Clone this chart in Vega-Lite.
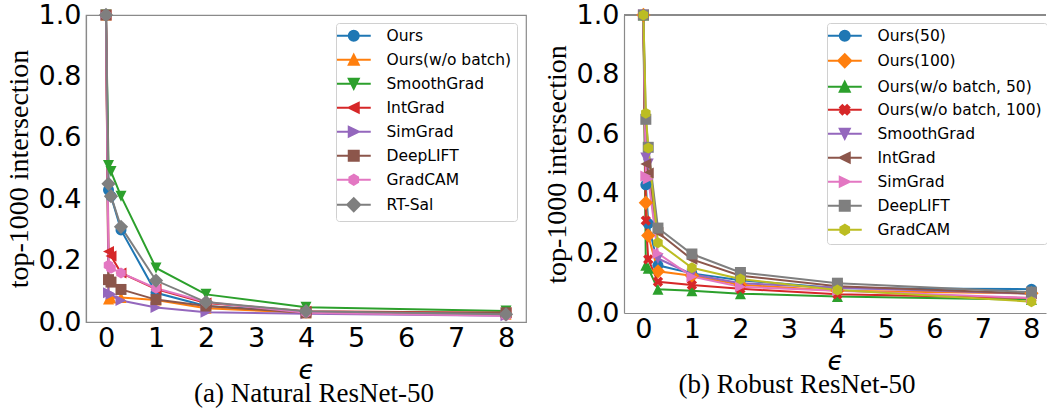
{
  "$schema": "https://vega.github.io/schema/vega-lite/v6.json",
  "background": "white",
  "padding": {"left": 4, "top": 0, "right": 0, "bottom": 0},
  "spacing": 16,
  "config": {
    "view": {"stroke": "#8a8a8a", "strokeWidth": 1.2},
    "axis": {
      "grid": false,
      "ticks": false,
      "tickSize": 0,
      "domainColor": "#8a8a8a",
      "domainWidth": 1.2,
      "labelFont": "DejaVu Sans",
      "labelFontSize": 27,
      "labelColor": "#000000",
      "labelPadding": 5
    },
    "axisX": {
      "labelPadding": 3,
      "titleFont": "DejaVu Sans",
      "titleFontStyle": "italic",
      "titleFontSize": 26,
      "titleFontWeight": "normal",
      "titleColor": "#000000",
      "titlePadding": 6
    },
    "axisY": {
      "titleFont": "Liberation Serif",
      "titleFontSize": 28,
      "titleFontWeight": "normal",
      "titleColor": "#000000",
      "titlePadding": 5
    },
    "legend": {
      "labelFont": "DejaVu Sans",
      "labelFontSize": 15.5,
      "labelColor": "#000000",
      "labelLimit": 400,
      "padding": 5,
      "rowPadding": 5,
      "symbolSize": 100,
      "symbolStrokeWidth": 2,
      "symbolOpacity": 1,
      "symbolOffset": 5,
      "labelOffset": 25,
      "strokeColor": "#d0d0d0",
      "fillColor": "transparent",
      "cornerRadius": 3
    }
  },
  "resolve": {"scale": {"color": "independent", "shape": "independent", "x": "independent", "y": "independent"}},
  "hconcat": [
    {
      "width": 440,
      "height": 307,
      "title": {"text": "(a) Natural ResNet-50", "orient": "bottom", "anchor": "middle", "frame": "group", "font": "Liberation Serif", "fontSize": 27, "fontWeight": "normal", "color": "#000000", "offset": -2, "dx": 8},
      "data": {"values": [
        {"m": "Ours", "e": 0, "v": 1.0}, {"m": "Ours", "e": 0.05, "v": 0.43}, {"m": "Ours", "e": 0.1, "v": 0.41}, {"m": "Ours", "e": 0.3, "v": 0.30}, {"m": "Ours", "e": 1, "v": 0.095}, {"m": "Ours", "e": 2, "v": 0.052}, {"m": "Ours", "e": 4, "v": 0.032}, {"m": "Ours", "e": 8, "v": 0.025},
        {"m": "Ours(w/o batch)", "e": 0, "v": 1.0}, {"m": "Ours(w/o batch)", "e": 0.05, "v": 0.075}, {"m": "Ours(w/o batch)", "e": 0.1, "v": 0.078}, {"m": "Ours(w/o batch)", "e": 0.3, "v": 0.08}, {"m": "Ours(w/o batch)", "e": 1, "v": 0.072}, {"m": "Ours(w/o batch)", "e": 2, "v": 0.045}, {"m": "Ours(w/o batch)", "e": 4, "v": 0.03}, {"m": "Ours(w/o batch)", "e": 8, "v": 0.025},
        {"m": "SmoothGrad", "e": 0, "v": 1.0}, {"m": "SmoothGrad", "e": 0.05, "v": 0.51}, {"m": "SmoothGrad", "e": 0.1, "v": 0.49}, {"m": "SmoothGrad", "e": 0.3, "v": 0.41}, {"m": "SmoothGrad", "e": 1, "v": 0.176}, {"m": "SmoothGrad", "e": 2, "v": 0.09}, {"m": "SmoothGrad", "e": 4, "v": 0.048}, {"m": "SmoothGrad", "e": 8, "v": 0.036},
        {"m": "IntGrad", "e": 0, "v": 1.0}, {"m": "IntGrad", "e": 0.05, "v": 0.23}, {"m": "IntGrad", "e": 0.1, "v": 0.215}, {"m": "IntGrad", "e": 0.3, "v": 0.16}, {"m": "IntGrad", "e": 1, "v": 0.107}, {"m": "IntGrad", "e": 2, "v": 0.062}, {"m": "IntGrad", "e": 4, "v": 0.035}, {"m": "IntGrad", "e": 8, "v": 0.03},
        {"m": "SimGrad", "e": 0, "v": 1.0}, {"m": "SimGrad", "e": 0.05, "v": 0.095}, {"m": "SimGrad", "e": 0.1, "v": 0.09}, {"m": "SimGrad", "e": 0.3, "v": 0.07}, {"m": "SimGrad", "e": 1, "v": 0.047}, {"m": "SimGrad", "e": 2, "v": 0.032}, {"m": "SimGrad", "e": 4, "v": 0.027}, {"m": "SimGrad", "e": 8, "v": 0.02},
        {"m": "DeepLIFT", "e": 0, "v": 1.0}, {"m": "DeepLIFT", "e": 0.05, "v": 0.138}, {"m": "DeepLIFT", "e": 0.1, "v": 0.13}, {"m": "DeepLIFT", "e": 0.3, "v": 0.106}, {"m": "DeepLIFT", "e": 1, "v": 0.073}, {"m": "DeepLIFT", "e": 2, "v": 0.052}, {"m": "DeepLIFT", "e": 4, "v": 0.03}, {"m": "DeepLIFT", "e": 8, "v": 0.03},
        {"m": "GradCAM", "e": 0, "v": 1.0}, {"m": "GradCAM", "e": 0.05, "v": 0.185}, {"m": "GradCAM", "e": 0.1, "v": 0.175}, {"m": "GradCAM", "e": 0.3, "v": 0.16}, {"m": "GradCAM", "e": 1, "v": 0.11}, {"m": "GradCAM", "e": 2, "v": 0.065}, {"m": "GradCAM", "e": 4, "v": 0.03}, {"m": "GradCAM", "e": 8, "v": 0.02},
        {"m": "RT-Sal", "e": 0, "v": 1.0}, {"m": "RT-Sal", "e": 0.05, "v": 0.45}, {"m": "RT-Sal", "e": 0.1, "v": 0.41}, {"m": "RT-Sal", "e": 0.3, "v": 0.31}, {"m": "RT-Sal", "e": 1, "v": 0.135}, {"m": "RT-Sal", "e": 2, "v": 0.065}, {"m": "RT-Sal", "e": 4, "v": 0.035}, {"m": "RT-Sal", "e": 8, "v": 0.025}
      ]},
      "resolve": {"scale": {"color": "independent", "shape": "independent"}},
      "layer": [
        {
          "mark": {"type": "line", "strokeWidth": 2},
          "encoding": {
            "x": {"field": "e", "type": "quantitative", "scale": {"domain": [-0.4, 8.4], "nice": false, "zero": false}, "axis": {"values": [0, 1, 2, 3, 4, 5, 6, 7, 8], "format": "d", "title": "ϵ"}},
            "y": {"field": "v", "type": "quantitative", "scale": {"domain": [0, 1], "nice": false}, "axis": {"values": [0, 0.2, 0.4, 0.6, 0.8, 1], "format": ".1f", "title": "top-1000 intersection"}},
            "color": {"field": "m", "type": "nominal", "legend": null,
              "scale": {"domain": ["Ours", "Ours(w/o batch)", "SmoothGrad", "IntGrad", "SimGrad", "DeepLIFT", "GradCAM", "RT-Sal"], "range": ["#1f77b4", "#ff7f0e", "#2ca02c", "#d62728", "#9467bd", "#8c564b", "#e377c2", "#7f7f7f"]}}
          }
        },
        {
          "transform": [{"filter": "false"}],
          "mark": {"type": "point", "filled": false, "opacity": 1, "strokeWidth": 2},
          "encoding": {
            "color": {"field": "m", "type": "nominal",
              "scale": {"domain": ["Ours", "Ours(w/o batch)", "SmoothGrad", "IntGrad", "SimGrad", "DeepLIFT", "GradCAM", "RT-Sal"], "range": ["#1f77b4", "#ff7f0e", "#2ca02c", "#d62728", "#9467bd", "#8c564b", "#e377c2", "#7f7f7f"]},
              "legend": {"title": null, "orient": "none", "legendX": 250, "legendY": 8, "direction": "vertical", "strokeColor": "transparent", "labelExpr": "' '"}},
            "shape": {"field": "m", "type": "nominal",
              "scale": {"domain": ["Ours", "Ours(w/o batch)", "SmoothGrad", "IntGrad", "SimGrad", "DeepLIFT", "GradCAM", "RT-Sal"],
                "range": [
                  "M-3.4,0L3.4,0M1,0L0.924,0.383L0.707,0.707L0.383,0.924L0,1L-0.383,0.924L-0.707,0.707L-0.924,0.383L-1,0L-0.924,-0.383L-0.707,-0.707L-0.383,-0.924L0,-1L0.383,-0.924L0.707,-0.707L0.924,-0.383Z",
                  "M-3.4,0L3.4,0M0,-1L-1,1L1,1Z",
                  "M-3.4,0L3.4,0M0,1L-1,-1L1,-1Z",
                  "M-3.4,0L3.4,0M-1,0L1,-1L1,1Z",
                  "M-3.4,0L3.4,0M1,0L-1,-1L-1,1Z",
                  "M-3.4,0L3.4,0M-1,-1L1,-1L1,1L-1,1Z",
                  "M-3.4,0L3.4,0M0,-1L-0.866,-0.5L-0.866,0.5L0,1L0.866,0.5L0.866,-0.5Z",
                  "M-3.4,0L3.4,0M-1.3,0L0,-1.3L1.3,0L0,1.3Z"]},
              "legend": {"title": null, "orient": "none", "legendX": 250, "legendY": 8, "direction": "vertical", "strokeColor": "transparent", "labelExpr": "' '"}}
          }
        },
        {
          "mark": {"type": "point", "filled": true, "opacity": 1, "size": 121},
          "encoding": {
            "x": {"field": "e", "type": "quantitative"},
            "y": {"field": "v", "type": "quantitative"},
            "color": {"field": "m", "type": "nominal",
              "scale": {"domain": ["Ours", "Ours(w/o batch)", "SmoothGrad", "IntGrad", "SimGrad", "DeepLIFT", "GradCAM", "RT-Sal"], "range": ["#1f77b4", "#ff7f0e", "#2ca02c", "#d62728", "#9467bd", "#8c564b", "#e377c2", "#7f7f7f"]},
              "legend": {"title": null, "orient": "none", "legendX": 250, "legendY": 8, "direction": "vertical"}},
            "shape": {"field": "m", "type": "nominal",
              "scale": {"domain": ["Ours", "Ours(w/o batch)", "SmoothGrad", "IntGrad", "SimGrad", "DeepLIFT", "GradCAM", "RT-Sal"],
                "range": ["circle", "M0,-1L-1,1L1,1Z", "M0,1L-1,-1L1,-1Z", "M-1,0L1,-1L1,1Z", "M1,0L-1,-1L-1,1Z", "square", "M0,-1L-0.866,-0.5L-0.866,0.5L0,1L0.866,0.5L0.866,-0.5Z", "M-1.3,0L0,-1.3L1.3,0L0,1.3Z"]},
              "legend": {"title": null, "orient": "none", "legendX": 250, "legendY": 8, "direction": "vertical"}}
          }
        }
      ]
    },
    {
      "width": 422,
      "height": 298,
      "view": {"stroke": null},
      "title": {"text": "(b) Robust ResNet-50", "orient": "bottom", "anchor": "middle", "frame": "group", "font": "Liberation Serif", "fontSize": 27, "fontWeight": "normal", "color": "#000000", "offset": -2, "dx": -38},
      "data": {"values": [
        {"m": "Ours(50)", "e": 0, "v": 1.0}, {"m": "Ours(50)", "e": 0.05, "v": 0.43}, {"m": "Ours(50)", "e": 0.1, "v": 0.30}, {"m": "Ours(50)", "e": 0.3, "v": 0.16}, {"m": "Ours(50)", "e": 1, "v": 0.133}, {"m": "Ours(50)", "e": 2, "v": 0.11}, {"m": "Ours(50)", "e": 4, "v": 0.083}, {"m": "Ours(50)", "e": 8, "v": 0.08},
        {"m": "Ours(100)", "e": 0, "v": 1.0}, {"m": "Ours(100)", "e": 0.05, "v": 0.37}, {"m": "Ours(100)", "e": 0.1, "v": 0.26}, {"m": "Ours(100)", "e": 0.3, "v": 0.14}, {"m": "Ours(100)", "e": 1, "v": 0.125}, {"m": "Ours(100)", "e": 2, "v": 0.095}, {"m": "Ours(100)", "e": 4, "v": 0.075}, {"m": "Ours(100)", "e": 8, "v": 0.066},
        {"m": "Ours(w/o batch, 50)", "e": 0, "v": 1.0}, {"m": "Ours(w/o batch, 50)", "e": 0.05, "v": 0.16}, {"m": "Ours(w/o batch, 50)", "e": 0.1, "v": 0.15}, {"m": "Ours(w/o batch, 50)", "e": 0.3, "v": 0.08}, {"m": "Ours(w/o batch, 50)", "e": 1, "v": 0.075}, {"m": "Ours(w/o batch, 50)", "e": 2, "v": 0.065}, {"m": "Ours(w/o batch, 50)", "e": 4, "v": 0.055}, {"m": "Ours(w/o batch, 50)", "e": 8, "v": 0.045},
        {"m": "Ours(w/o batch, 100)", "e": 0, "v": 1.0}, {"m": "Ours(w/o batch, 100)", "e": 0.05, "v": 0.31}, {"m": "Ours(w/o batch, 100)", "e": 0.1, "v": 0.18}, {"m": "Ours(w/o batch, 100)", "e": 0.3, "v": 0.105}, {"m": "Ours(w/o batch, 100)", "e": 1, "v": 0.094}, {"m": "Ours(w/o batch, 100)", "e": 2, "v": 0.081}, {"m": "Ours(w/o batch, 100)", "e": 4, "v": 0.063}, {"m": "Ours(w/o batch, 100)", "e": 8, "v": 0.05},
        {"m": "SmoothGrad", "e": 0, "v": 1.0}, {"m": "SmoothGrad", "e": 0.05, "v": 0.52}, {"m": "SmoothGrad", "e": 0.1, "v": 0.50}, {"m": "SmoothGrad", "e": 0.3, "v": 0.183}, {"m": "SmoothGrad", "e": 1, "v": 0.13}, {"m": "SmoothGrad", "e": 2, "v": 0.10}, {"m": "SmoothGrad", "e": 4, "v": 0.085}, {"m": "SmoothGrad", "e": 8, "v": 0.065},
        {"m": "IntGrad", "e": 0, "v": 1.0}, {"m": "IntGrad", "e": 0.05, "v": 0.50}, {"m": "IntGrad", "e": 0.1, "v": 0.47}, {"m": "IntGrad", "e": 0.3, "v": 0.27}, {"m": "IntGrad", "e": 1, "v": 0.18}, {"m": "IntGrad", "e": 2, "v": 0.125}, {"m": "IntGrad", "e": 4, "v": 0.09}, {"m": "IntGrad", "e": 8, "v": 0.065},
        {"m": "SimGrad", "e": 0, "v": 1.0}, {"m": "SimGrad", "e": 0.05, "v": 0.46}, {"m": "SimGrad", "e": 0.1, "v": 0.45}, {"m": "SimGrad", "e": 0.3, "v": 0.20}, {"m": "SimGrad", "e": 1, "v": 0.122}, {"m": "SimGrad", "e": 2, "v": 0.088}, {"m": "SimGrad", "e": 4, "v": 0.075}, {"m": "SimGrad", "e": 8, "v": 0.05},
        {"m": "DeepLIFT", "e": 0, "v": 1.0}, {"m": "DeepLIFT", "e": 0.05, "v": 0.65}, {"m": "DeepLIFT", "e": 0.1, "v": 0.556}, {"m": "DeepLIFT", "e": 0.3, "v": 0.285}, {"m": "DeepLIFT", "e": 1, "v": 0.198}, {"m": "DeepLIFT", "e": 2, "v": 0.136}, {"m": "DeepLIFT", "e": 4, "v": 0.10}, {"m": "DeepLIFT", "e": 8, "v": 0.07},
        {"m": "GradCAM", "e": 0, "v": 1.0}, {"m": "GradCAM", "e": 0.05, "v": 0.67}, {"m": "GradCAM", "e": 0.1, "v": 0.554}, {"m": "GradCAM", "e": 0.3, "v": 0.236}, {"m": "GradCAM", "e": 1, "v": 0.152}, {"m": "GradCAM", "e": 2, "v": 0.114}, {"m": "GradCAM", "e": 4, "v": 0.077}, {"m": "GradCAM", "e": 8, "v": 0.038}
      ]},
      "resolve": {"scale": {"color": "independent", "shape": "independent"}},
      "layer": [
        {
          "mark": {"type": "rule", "color": "#8a8a8a", "strokeWidth": 1.2},
          "encoding": {"y": {"datum": 1, "type": "quantitative"}}
        },
        {
          "mark": {"type": "line", "strokeWidth": 2},
          "encoding": {
            "x": {"field": "e", "type": "quantitative", "scale": {"domain": [-0.4, 8.3], "nice": false, "zero": false}, "axis": {"values": [0, 1, 2, 3, 4, 5, 6, 7, 8], "format": "d", "title": "ϵ"}},
            "y": {"field": "v", "type": "quantitative", "scale": {"domain": [0, 1], "nice": false}, "axis": {"values": [0, 0.2, 0.4, 0.6, 0.8, 1], "format": ".1f", "title": "top-1000 intersection"}},
            "color": {"field": "m", "type": "nominal", "legend": null,
              "scale": {"domain": ["Ours(50)", "Ours(100)", "Ours(w/o batch, 50)", "Ours(w/o batch, 100)", "SmoothGrad", "IntGrad", "SimGrad", "DeepLIFT", "GradCAM"], "range": ["#1f77b4", "#ff7f0e", "#2ca02c", "#d62728", "#9467bd", "#8c564b", "#e377c2", "#7f7f7f", "#bcbd22"]}}
          }
        },
        {
          "transform": [{"filter": "false"}],
          "mark": {"type": "point", "filled": false, "opacity": 1, "strokeWidth": 2},
          "encoding": {
            "color": {"field": "m", "type": "nominal",
              "scale": {"domain": ["Ours(50)", "Ours(100)", "Ours(w/o batch, 50)", "Ours(w/o batch, 100)", "SmoothGrad", "IntGrad", "SimGrad", "DeepLIFT", "GradCAM"], "range": ["#1f77b4", "#ff7f0e", "#2ca02c", "#d62728", "#9467bd", "#8c564b", "#e377c2", "#7f7f7f", "#bcbd22"]},
              "legend": {"title": null, "orient": "none", "legendX": 203, "legendY": 8, "direction": "vertical", "strokeColor": "transparent", "labelExpr": "' '"}},
            "shape": {"field": "m", "type": "nominal",
              "scale": {"domain": ["Ours(50)", "Ours(100)", "Ours(w/o batch, 50)", "Ours(w/o batch, 100)", "SmoothGrad", "IntGrad", "SimGrad", "DeepLIFT", "GradCAM"],
                "range": [
                  "M-3.4,0L3.4,0M1,0L0.924,0.383L0.707,0.707L0.383,0.924L0,1L-0.383,0.924L-0.707,0.707L-0.924,0.383L-1,0L-0.924,-0.383L-0.707,-0.707L-0.383,-0.924L0,-1L0.383,-0.924L0.707,-0.707L0.924,-0.383Z",
                  "M-3.4,0L3.4,0M-1.3,0L0,-1.3L1.3,0L0,1.3Z",
                  "M-3.4,0L3.4,0M0,-1L-1,1L1,1Z",
                  "M-3.4,0L3.4,0M0.94,-0.474L0.467,0L0.94,0.474L0.474,0.94L0,0.467L-0.474,0.94L-0.94,0.474L-0.467,0L-0.94,-0.474L-0.474,-0.94L0,-0.467L0.474,-0.94Z",
                  "M-3.4,0L3.4,0M0,1L-1,-1L1,-1Z",
                  "M-3.4,0L3.4,0M-1,0L1,-1L1,1Z",
                  "M-3.4,0L3.4,0M1,0L-1,-1L-1,1Z",
                  "M-3.4,0L3.4,0M-1,-1L1,-1L1,1L-1,1Z",
                  "M-3.4,0L3.4,0M0,-1L-0.866,-0.5L-0.866,0.5L0,1L0.866,0.5L0.866,-0.5Z"]},
              "legend": {"title": null, "orient": "none", "legendX": 203, "legendY": 8, "direction": "vertical", "strokeColor": "transparent", "labelExpr": "' '"}}
          }
        },
        {
          "mark": {"type": "point", "filled": true, "opacity": 1, "size": 121},
          "encoding": {
            "x": {"field": "e", "type": "quantitative"},
            "y": {"field": "v", "type": "quantitative"},
            "color": {"field": "m", "type": "nominal",
              "scale": {"domain": ["Ours(50)", "Ours(100)", "Ours(w/o batch, 50)", "Ours(w/o batch, 100)", "SmoothGrad", "IntGrad", "SimGrad", "DeepLIFT", "GradCAM"], "range": ["#1f77b4", "#ff7f0e", "#2ca02c", "#d62728", "#9467bd", "#8c564b", "#e377c2", "#7f7f7f", "#bcbd22"]},
              "legend": {"title": null, "orient": "none", "legendX": 203, "legendY": 8, "direction": "vertical"}},
            "shape": {"field": "m", "type": "nominal",
              "scale": {"domain": ["Ours(50)", "Ours(100)", "Ours(w/o batch, 50)", "Ours(w/o batch, 100)", "SmoothGrad", "IntGrad", "SimGrad", "DeepLIFT", "GradCAM"],
                "range": ["circle", "M-1.3,0L0,-1.3L1.3,0L0,1.3Z", "M0,-1L-1,1L1,1Z", "M0.94,-0.474L0.467,0L0.94,0.474L0.474,0.94L0,0.467L-0.474,0.94L-0.94,0.474L-0.467,0L-0.94,-0.474L-0.474,-0.94L0,-0.467L0.474,-0.94Z", "M0,1L-1,-1L1,-1Z", "M-1,0L1,-1L1,1Z", "M1,0L-1,-1L-1,1Z", "square", "M0,-1L-0.866,-0.5L-0.866,0.5L0,1L0.866,0.5L0.866,-0.5Z"]},
              "legend": {"title": null, "orient": "none", "legendX": 203, "legendY": 8, "direction": "vertical"}}
          }
        }
      ]
    }
  ]
}
